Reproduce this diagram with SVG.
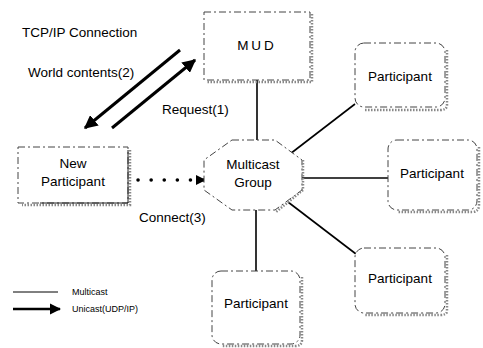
<svg xmlns="http://www.w3.org/2000/svg" width="483" height="348" viewBox="0 0 483 348">
  <defs>
    <style>
      text { font-family: "Liberation Sans", Arial, sans-serif; fill: #000; }
      .lbl { font-size: 13.5px; }
      .leg { font-size: 9px; }
      .box { fill: #fff; stroke: #444; stroke-width: 1; stroke-dasharray: 7 3 2 3; }
      .shadow { fill: none; stroke: #888; stroke-width: 2.5; stroke-dasharray: 1.5 1.5; }
      .mc { stroke: #000; stroke-width: 1.6; fill: none; }
      .uc { stroke: #000; stroke-width: 3; fill: none; }
    </style>
    <marker id="head" viewBox="0 0 10 10" refX="9" refY="5" markerWidth="4.5" markerHeight="4.5" orient="auto" markerUnits="strokeWidth">
      <path d="M0,0 L10,5 L0,10 z" fill="#000"/>
    </marker>
    <marker id="headDot" viewBox="0 0 10 10" refX="9" refY="5" markerWidth="10" markerHeight="10" orient="auto" markerUnits="userSpaceOnUse">
      <path d="M0,0 L10,5 L0,10 z" fill="#000"/>
    </marker>
  </defs>

  <rect width="483" height="348" fill="#fff"/>

  <!-- connectors -->
  <g id="connectors">
    <line class="mc" x1="257" y1="80" x2="257" y2="140"/>
    <line class="mc" x1="290" y1="154" x2="355" y2="104"/>
    <line class="mc" x1="302" y1="178" x2="388" y2="178"/>
    <line class="mc" x1="288" y1="202" x2="356" y2="254"/>
    <line class="mc" x1="256" y1="210" x2="256" y2="271"/>
    <!-- world contents (2) -->
    <line class="uc" x1="180" y1="50" x2="85" y2="128" marker-end="url(#head)"/>
    <!-- request (1) -->
    <line class="uc" x1="112" y1="128" x2="195" y2="60" marker-end="url(#head)"/>
    <!-- connect (3) -->
    <line x1="138" y1="180" x2="205" y2="180" stroke="#000" stroke-width="3.5" stroke-linecap="round" stroke-dasharray="0.1 13" marker-end="url(#headDot)"/>
  </g>

  <!-- MUD server -->
  <g id="mud">
    <path class="shadow" d="M312,14 V82 H206"/>
    <rect class="box" x="204" y="12" width="106" height="68"/>
    <text class="lbl" x="257" y="50" text-anchor="middle" letter-spacing="3">MUD</text>
  </g>

  <!-- new participant -->
  <g id="new-participant">
    <path class="shadow" d="M130,150 V205 H22"/>
    <rect class="box" x="18" y="147" width="110" height="56" stroke-dasharray="none" stroke="#bbb"/>
    <path d="M128,150 V203 H40" fill="none" stroke="#222" stroke-width="1"/>
    <text class="lbl" x="73" y="168" text-anchor="middle">New</text>
    <text class="lbl" x="73" y="186" text-anchor="middle">Participant</text>
  </g>

  <!-- multicast group -->
  <g id="multicast-group">
    <polygon class="box" points="232,140 275,140 302,160 302,190 275,210 232,210 204,190 204,160" stroke-dasharray="30 4 8 4"/>
    <path class="shadow" d="M303,160 V190 L276,212"/>
    <text class="lbl" x="253" y="169" text-anchor="middle">Multicast</text>
    <text class="lbl" x="253" y="187" text-anchor="middle">Group</text>
  </g>

  <!-- participants -->
  <g id="participant-1">
    <path class="shadow" d="M447,50 V105 Q447,110 440,110 H365"/>
    <rect class="box" x="355" y="43" width="90" height="64" rx="9"/>
    <text class="lbl" x="400" y="81" text-anchor="middle">Participant</text>
  </g>
  <g id="participant-2">
    <path class="shadow" d="M479,147 V205 Q479,212 472,212 H398"/>
    <rect class="box" x="388" y="140" width="89" height="70" rx="9"/>
    <text class="lbl" x="432" y="178" text-anchor="middle">Participant</text>
  </g>
  <g id="participant-3">
    <path class="shadow" d="M447,255 V311 Q447,315 440,315 H365"/>
    <rect class="box" x="355" y="248" width="90" height="65" rx="9"/>
    <text class="lbl" x="400" y="283" text-anchor="middle">Participant</text>
  </g>
  <g id="participant-4">
    <path class="shadow" d="M302,277 V340 Q302,346 295,346 H222"/>
    <rect class="box" x="212" y="271" width="88" height="73" rx="9"/>
    <text class="lbl" x="256" y="308" text-anchor="middle">Participant</text>
  </g>

  <!-- labels -->
  <g id="labels">
    <text class="lbl" x="22" y="37">TCP/IP Connection</text>
    <text class="lbl" x="28" y="77">World contents(2)</text>
    <text class="lbl" x="162" y="114">Request(1)</text>
    <text class="lbl" x="139" y="222">Connect(3)</text>
  </g>

  <!-- legend -->
  <g id="legend">
    <line x1="13" y1="292" x2="58" y2="292" stroke="#000" stroke-width="1"/>
    <text class="leg" x="72" y="295">Multicast</text>
    <line x1="13" y1="309" x2="60" y2="309" stroke="#000" stroke-width="2.5" marker-end="url(#head)"/>
    <text class="leg" x="72" y="312">Unicast(UDP/IP)</text>
  </g>
</svg>
